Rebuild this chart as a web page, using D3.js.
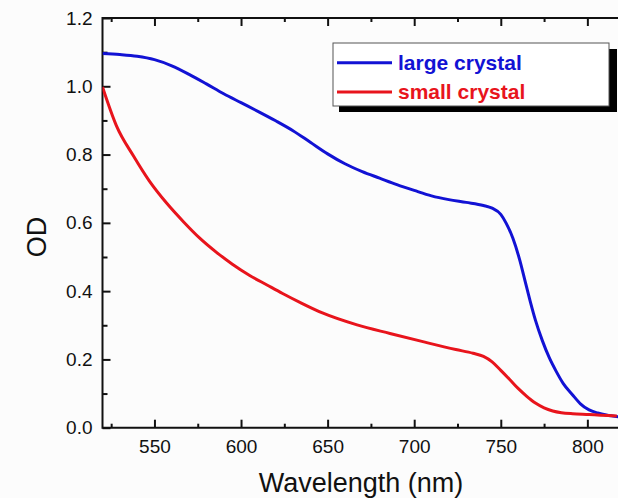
<!DOCTYPE html>
<html>
<head>
<meta charset="utf-8">
<script src="https://cdn.jsdelivr.net/npm/d3@7"></script>
<style>
  html, body { margin: 0; padding: 0; background: #fcfcfc; }
  svg { display: block; font-family: "Liberation Sans", Arial, sans-serif; }
  .axis path { display: none; }
  .axis line { stroke: #111; stroke-width: 2px; }
  .axis text { font-size: 19px; fill: #111; }
  .frame { stroke: #111; stroke-width: 2px; fill: none; }
</style>
</head>
<body>
<div id="chart"></div>
<script>
// values
const largeWavelength = [520, 530, 540, 550, 560, 570, 580, 590, 600, 610, 620, 630, 640, 650, 660, 670, 680, 690, 700, 710, 720, 730, 740, 745, 750, 753, 757, 761, 764, 767, 770, 774, 778, 782, 786, 791.5, 796, 801, 806, 811, 818];
const largeOD = [1.096, 1.093, 1.088, 1.078, 1.060, 1.035, 1.007, 0.978, 0.952, 0.926, 0.899, 0.870, 0.836, 0.802, 0.773, 0.750, 0.731, 0.712, 0.695, 0.679, 0.668, 0.660, 0.651, 0.643, 0.625, 0.600, 0.555, 0.490, 0.430, 0.370, 0.315, 0.255, 0.205, 0.165, 0.130, 0.096, 0.070, 0.052, 0.043, 0.037, 0.032];

const smallWavelength = [520, 528, 538, 547, 557, 567, 576, 586, 595, 605, 615, 624, 634, 647, 667, 686, 705, 724, 734, 740, 745, 750, 755, 760, 765, 770, 775, 780, 785, 791.5, 801, 817];
const smallOD = [0.998, 0.885, 0.795, 0.723, 0.658, 0.602, 0.556, 0.513, 0.479, 0.446, 0.418, 0.393, 0.367, 0.336, 0.301, 0.276, 0.252, 0.229, 0.218, 0.209, 0.193, 0.168, 0.142, 0.115, 0.092, 0.072, 0.058, 0.049, 0.044, 0.041, 0.039, 0.034];

const xMajor = [550, 600, 650, 700, 750, 800];
const xMinor = [525, 575, 625, 675, 725, 775];
const yMajor = [0, 0.2, 0.4, 0.6, 0.8, 1.0, 1.2];
const yMinor = [0.1, 0.3, 0.5, 0.7, 0.9, 1.1];

const seriesNames = ['large crystal', 'small crystal'];
const seriesColors = ['#1212d4', '#e8141c'];

const W = 618, H = 498;
const plot = { left: 102.5, top: 18, bottom: 427.7, right: 622 };

const svg = d3.select('#chart').append('svg')
    .attr('width', W)
    .attr('height', H);

svg.append('rect').attr('width', W).attr('height', H).attr('fill', '#fcfcfc');

const x = d3.scaleLinear().domain([520, 820]).range([plot.left, plot.right]);
const y = d3.scaleLinear().domain([0, 1.2]).range([plot.bottom, plot.top]);

svg.append('defs').append('clipPath').attr('id', 'plot')
    .append('rect')
    .attr('x', plot.left).attr('y', plot.top)
    .attr('width', plot.right - plot.left).attr('height', plot.bottom - plot.top);

// axes, ticks pointing inward
svg.append('g').attr('class', 'axis')
    .attr('transform', `translate(0,${plot.bottom})`)
    .call(d3.axisBottom(x).tickValues(xMajor).tickSize(-8).tickPadding(12).tickFormat(d3.format('d')));
svg.append('g').attr('class', 'axis')
    .attr('transform', `translate(0,${plot.bottom})`)
    .call(d3.axisBottom(x).tickValues(xMinor).tickSize(-4).tickFormat(''));
svg.append('g').attr('class', 'axis')
    .attr('transform', `translate(0,${plot.top})`)
    .call(d3.axisTop(x).tickValues(xMajor).tickSize(-8).tickFormat(''));
svg.append('g').attr('class', 'axis')
    .attr('transform', `translate(0,${plot.top})`)
    .call(d3.axisTop(x).tickValues(xMinor).tickSize(-4).tickFormat(''));
svg.append('g').attr('class', 'axis')
    .attr('transform', `translate(${plot.left},0)`)
    .call(d3.axisLeft(y).tickValues(yMajor).tickSize(-8).tickPadding(10).tickFormat(d3.format('.1f')));
svg.append('g').attr('class', 'axis')
    .attr('transform', `translate(${plot.left},0)`)
    .call(d3.axisLeft(y).tickValues(yMinor).tickSize(-5).tickFormat(''));

svg.append('path').attr('class', 'frame')
    .attr('d', `M${plot.right},${plot.top}H${plot.left}V${plot.bottom}H${plot.right}`);

// curves
const line = d3.line()
    .x(d => x(d[0]))
    .y(d => y(d[1]))
    .curve(d3.curveMonotoneX);

const series = [
    d3.zip(largeWavelength, largeOD),
    d3.zip(smallWavelength, smallOD)
];

svg.append('g')
    .attr('clip-path', 'url(#plot)')
    .selectAll('path')
    .data(series)
    .enter().append('path')
        .attr('d', line)
        .attr('fill', 'none')
        .attr('stroke', (d, i) => seriesColors[i])
        .attr('stroke-width', 3)
        .attr('stroke-linejoin', 'round');

// axis titles
svg.append('text')
    .attr('x', 361)
    .attr('y', 492)
    .attr('text-anchor', 'middle')
    .attr('font-size', 27)
    .attr('fill', '#111')
    .text('Wavelength (nm)');

svg.append('text')
    .attr('transform', 'translate(46,237) rotate(-90)')
    .attr('text-anchor', 'middle')
    .attr('font-size', 27)
    .attr('fill', '#111')
    .text('OD');

// legend with drop shadow
const legend = svg.append('g');
legend.append('rect')
    .attr('x', 339).attr('y', 49)
    .attr('width', 278).attr('height', 63)
    .attr('fill', '#000');
legend.append('rect')
    .attr('x', 333).attr('y', 43)
    .attr('width', 276).attr('height', 63)
    .attr('fill', '#fff')
    .attr('stroke', '#555')
    .attr('stroke-width', 1);

const items = legend.selectAll('g.item')
    .data(seriesNames)
    .enter().append('g')
        .attr('class', 'item')
        .attr('transform', (d, i) => `translate(0,${i * 29.3})`);

items.append('line')
    .attr('x1', 337).attr('x2', 392)
    .attr('y1', 62.7).attr('y2', 62.7)
    .attr('stroke', (d, i) => seriesColors[i])
    .attr('stroke-width', 3);

items.append('text')
    .attr('x', 398)
    .attr('y', 70)
    .attr('font-size', 21)
    .attr('font-weight', 'bold')
    .attr('fill', (d, i) => seriesColors[i])
    .text(d => d);
</script>
</body>
</html>
